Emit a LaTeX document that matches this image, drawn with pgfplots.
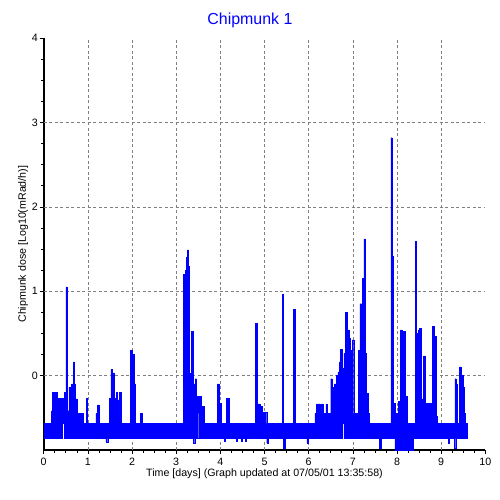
\documentclass[border=0pt]{standalone}
\usepackage{pgfplots}
\pgfplotsset{compat=1.18}
\usepackage{fontspec}
\setmainfont{Liberation Sans}
\begin{document}
\begin{tikzpicture}
\path[use as bounding box] (-43.7bp,-50bp) rectangle (456.3bp,450bp);
\begin{axis}[
  at={(0,0)}, anchor=south west,
  scale only axis, width=441.6bp, height=411.7bp,
  xmin=0, xmax=10, ymin=-0.886, ymax=4,
  axis lines=left,
  axis line style={-, line width=1.6bp, black},
  xtick={0,...,10}, ytick={0,...,4},
  minor tick num=3,
  tick align=outside,
  major tick length=4bp, minor tick length=2.5bp,
  tick style={black, line width=0.6bp},
  extra x ticks={1,...,9}, extra x tick labels={},
  extra x tick style={grid=major, major tick length=0pt},
  extra y ticks={0,1,2,3}, extra y tick labels={},
  extra y tick style={grid=major, major tick length=0pt},
  major grid style={gray, dash pattern=on 3bp off 2.5bp, line width=0.6bp},
  /pgf/number format/assume math mode=true,
  tick label style={font=\fontsize{10.7}{12}\selectfont},
  xticklabel style={anchor=base, yshift=-11.9bp},
  yticklabel style={anchor=east, xshift=1.6bp},
  title={Chipmunk 1},
  title style={font=\fontsize{16}{19}\selectfont, text=blue, at={(axis description cs:0.467,1)}, anchor=base, yshift=7.6bp},
  xlabel={Time [days] (Graph updated at 07/05/01 13:35:58)},
  xlabel style={font=\fontsize{10.7}{12}\selectfont, at={(axis description cs:0.5,0)}, anchor=base, yshift=-26.5bp},
  ylabel={Chipmunk dose [Log10(mRad/h)]},
  ylabel style={font=\fontsize{10.7}{12}\selectfont, at={(axis description cs:-0.0401,0.5)}, anchor=base},
]
\addplot[draw=blue, fill=blue, line width=0.4bp] coordinates {
(0.01,-0.57)
(0.18,-0.57) (0.18,-0.42) (0.20,-0.42) (0.20,-0.20) (0.23,-0.20) (0.23,-0.27) (0.26,-0.27) (0.26,-0.20) (0.30,-0.20) (0.30,-0.27) (0.44,-0.27) (0.44,-0.45) (0.46,-0.45) (0.46,-0.20) (0.50,-0.20) (0.50,1.05) (0.53,1.05) (0.53,-0.42) (0.57,-0.42) (0.57,-0.14) (0.63,-0.14) (0.63,-0.10) (0.67,-0.10) (0.67,0.16) (0.70,0.16) (0.70,-0.10) (0.72,-0.10) (0.72,-0.28) (0.76,-0.28) (0.76,-0.45) (0.89,-0.45) (0.89,-0.57)
(0.96,-0.57) (0.96,-0.27) (0.99,-0.27) (0.99,-0.57)
(1.18,-0.57) (1.18,-0.45) (1.22,-0.45) (1.22,-0.35) (1.25,-0.35) (1.25,-0.57)
(1.49,-0.57) (1.49,-0.27) (1.52,-0.27) (1.52,0.07) (1.56,0.07) (1.56,0.03) (1.59,0.03) (1.59,-0.27) (1.64,-0.27) (1.64,-0.20) (1.67,-0.20) (1.67,-0.29) (1.72,-0.29) (1.72,-0.20) (1.76,-0.20) (1.76,-0.57)
(1.96,-0.57) (1.96,0.30) (2.00,0.30) (2.00,0.25) (2.06,0.25) (2.06,-0.10) (2.08,-0.10) (2.08,-0.57)
(2.19,-0.57) (2.19,-0.45) (2.23,-0.45) (2.23,-0.57)
(3.16,-0.57) (3.16,1.20) (3.20,1.20) (3.20,1.25) (3.23,1.25) (3.23,1.40) (3.25,1.40) (3.25,1.49) (3.28,1.49) (3.28,1.30) (3.30,1.30) (3.30,0.02) (3.35,0.02) (3.35,0.52) (3.39,0.52) (3.39,-0.10) (3.43,-0.10) (3.43,-0.04) (3.46,-0.04) (3.46,-0.25) (3.56,-0.25) (3.56,-0.37) (3.63,-0.37) (3.63,-0.57)
(3.94,-0.57) (3.94,-0.10) (3.97,-0.10) (3.97,-0.33) (4.01,-0.33) (4.01,-0.57)
(4.14,-0.57) (4.14,-0.27) (4.20,-0.27) (4.20,-0.57)
(4.80,-0.57) (4.80,0.62) (4.84,0.62) (4.84,-0.34) (4.90,-0.34) (4.90,-0.37) (4.94,-0.37) (4.94,-0.44) (5.05,-0.44) (5.05,-0.57)
(5.40,-0.57) (5.40,0.96) (5.43,0.96) (5.43,-0.57)
(5.65,-0.57) (5.65,0.78) (5.70,0.78) (5.70,-0.57)
(6.14,-0.57) (6.14,-0.45) (6.18,-0.45) (6.18,-0.34) (6.26,-0.34) (6.26,-0.45) (6.29,-0.45) (6.29,-0.34) (6.33,-0.34) (6.33,-0.45) (6.39,-0.45) (6.39,-0.34) (6.42,-0.34) (6.42,-0.45) (6.50,-0.45) (6.50,-0.04) (6.53,-0.04) (6.53,-0.14) (6.58,-0.14) (6.58,-0.10) (6.62,-0.10) (6.62,0.00) (6.66,0.00) (6.66,0.04) (6.69,0.04) (6.69,0.16) (6.72,0.16) (6.72,0.31) (6.77,0.31) (6.77,0.08) (6.80,0.08) (6.80,0.26) (6.83,0.26) (6.83,0.75) (6.87,0.75) (6.87,0.54) (6.91,0.54) (6.91,0.44) (6.95,0.44) (6.95,0.30) (6.99,0.30) (6.99,0.42) (7.02,0.42) (7.02,-0.45) (7.12,-0.45) (7.12,0.30) (7.16,0.30) (7.16,0.85) (7.21,0.85) (7.21,1.15) (7.25,1.15) (7.25,1.62) (7.28,1.62) (7.28,0.26) (7.31,0.26) (7.31,-0.21) (7.34,-0.21) (7.34,-0.45) (7.37,-0.45) (7.37,-0.57)
(7.86,-0.57) (7.86,2.82) (7.89,2.82) (7.89,1.41) (7.91,1.41) (7.91,-0.33) (7.96,-0.33) (7.96,-0.45) (8.03,-0.45) (8.03,-0.31) (8.08,-0.31) (8.08,0.54) (8.12,0.54) (8.12,0.48) (8.15,0.48) (8.15,0.52) (8.19,0.52) (8.19,-0.25) (8.24,-0.25) (8.24,-0.57)
(8.41,-0.57) (8.41,1.59) (8.44,1.59) (8.44,0.50) (8.48,0.50) (8.48,0.54) (8.51,0.54) (8.51,0.56) (8.55,0.56) (8.55,-0.45) (8.57,-0.45) (8.57,-0.28) (8.60,-0.28) (8.60,0.23) (8.63,0.23) (8.63,-0.33) (8.80,-0.33) (8.80,0.58) (8.84,0.58) (8.84,0.46) (8.88,0.46) (8.88,-0.49) (8.92,-0.49) (8.92,-0.57)
(9.31,-0.57) (9.31,-0.04) (9.34,-0.04) (9.34,-0.10) (9.37,-0.10) (9.37,-0.57) (9.41,-0.57) (9.41,0.10) (9.45,0.10) (9.45,0.00) (9.49,0.00) (9.49,-0.14) (9.52,-0.14) (9.52,-0.45) (9.55,-0.45) (9.55,-0.57) (9.58,-0.57)
(9.58,-0.75) (9.33,-0.75) (9.33,-0.87) (9.30,-0.87) (9.30,-0.75) (9.19,-0.75) (9.19,-0.80) (9.16,-0.80) (9.16,-0.75)
(8.79,-0.75) (8.79,-0.57) (8.77,-0.57) (8.77,-0.75)
(8.57,-0.75) (8.57,-0.55) (8.555,-0.55) (8.555,-0.75)
(8.46,-0.75) (8.46,-0.60) (8.445,-0.60) (8.445,-0.75)
(8.36,-0.75) (8.36,-0.95) (8.28,-0.95) (8.28,-0.82) (8.25,-0.82) (8.25,-0.95) (8.10,-0.95) (8.10,-0.85) (8.07,-0.85) (8.07,-0.95) (7.95,-0.95) (7.95,-0.75)
(7.65,-0.75) (7.65,-0.87) (7.60,-0.87) (7.60,-0.75)
(6.80,-0.75) (6.80,-0.57) (6.77,-0.57) (6.77,-0.75) (6.71,-0.75) (6.71,-0.57) (6.69,-0.57) (6.69,-0.75) (6.66,-0.75) (6.66,-0.57) (6.64,-0.57) (6.64,-0.75) (6.62,-0.75) (6.62,-0.57) (6.60,-0.57) (6.60,-0.75) (6.57,-0.75) (6.57,-0.57) (6.55,-0.57) (6.55,-0.75) (6.48,-0.75) (6.48,-0.57) (6.46,-0.57) (6.46,-0.75) (6.30,-0.75) (6.30,-0.57) (6.28,-0.57) (6.28,-0.75) (6.23,-0.75) (6.23,-0.57) (6.21,-0.57) (6.21,-0.75)
(5.99,-0.75) (5.99,-0.80) (5.96,-0.80) (5.96,-0.75)
(5.46,-0.75) (5.46,-0.87) (5.43,-0.87) (5.43,-0.75)
(5.09,-0.75) (5.09,-0.80) (5.05,-0.80) (5.05,-0.75)
(4.90,-0.75) (4.90,-0.57) (4.88,-0.57) (4.88,-0.75)
(4.58,-0.75) (4.58,-0.78) (4.56,-0.78) (4.56,-0.75) (4.50,-0.75) (4.50,-0.78) (4.48,-0.78) (4.48,-0.75) (4.38,-0.75) (4.38,-0.78) (4.36,-0.78) (4.36,-0.75)
(4.12,-0.75) (4.12,-0.78) (4.09,-0.78) (4.09,-0.75)
(3.55,-0.75) (3.55,-0.45) (3.51,-0.45) (3.51,-0.75)
(3.42,-0.75) (3.42,-0.81) (3.39,-0.81) (3.39,-0.75)
(1.58,-0.75) (1.58,-0.57) (1.555,-0.57) (1.555,-0.75)
(1.45,-0.75) (1.45,-0.79) (1.41,-0.79) (1.41,-0.75)
(0.46,-0.75) (0.46,-0.57) (0.43,-0.57) (0.43,-0.75)
(0.01,-0.75)
} --cycle;
\end{axis}
\end{tikzpicture}
\end{document}
